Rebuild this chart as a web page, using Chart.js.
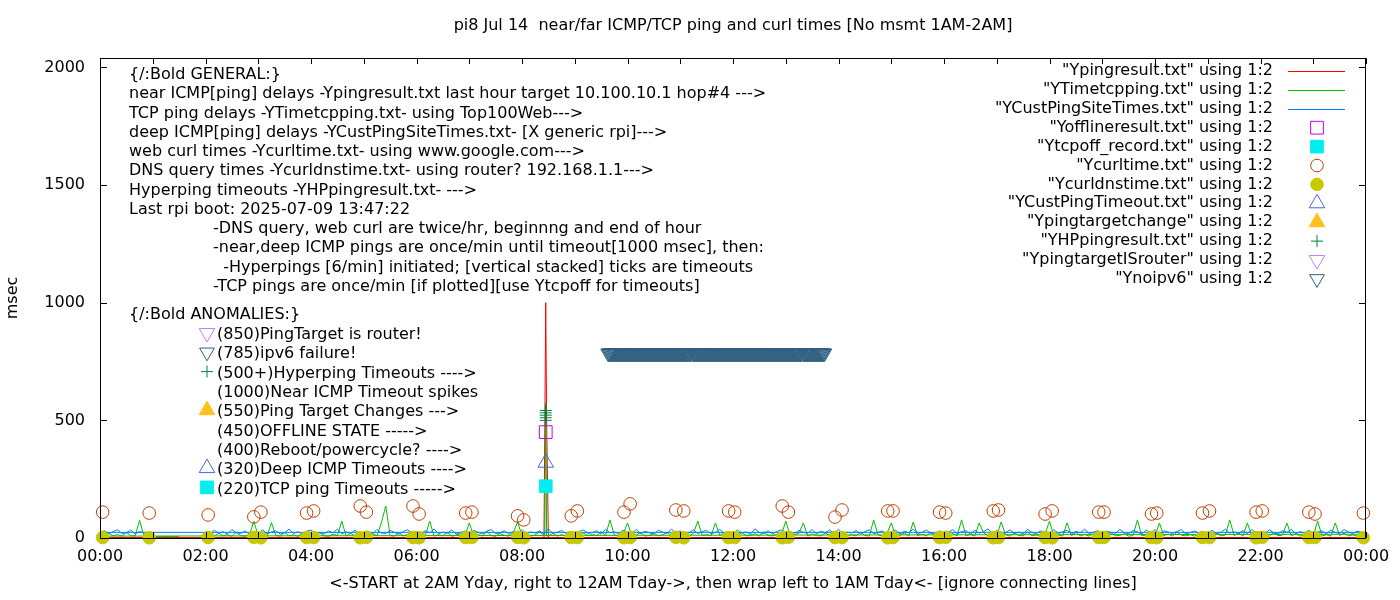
<!DOCTYPE html>
<html>
<head>
<meta charset="utf-8">
<title>pi8 ping and curl times</title>
<script src="https://cdn.jsdelivr.net/npm/chart.js@4.4.1/dist/chart.umd.min.js"></script>
<style>
  html, body { margin: 0; padding: 0; background: #fff; }
  canvas { display: block; }
</style>
</head>
<body>
<canvas id="grafico" width="1400" height="600"></canvas>
<script>
// ---- texts ----
const chartTitle = "pi8 Jul 14  near/far ICMP/TCP ping and curl times [No msmt 1AM-2AM]";
const xTitle = "<-START at 2AM Yday, right to 12AM Tday->, then wrap left to 1AM Tday<- [ignore connecting lines]";
const yTitle = "msec";

// ---- axes ----
const yTicks = [0, 500, 1000, 1500, 2000];
const xTickHours = [0, 2, 4, 6, 8, 10, 12, 14, 16, 18, 20, 22, 24];
const xTickLabels = ["00:00", "02:00", "04:00", "06:00", "08:00", "10:00", "12:00",
                     "14:00", "16:00", "18:00", "20:00", "22:00", "00:00"];

// hour blocks in the order they were logged: 2AM yesterday .. 23h, then wrap to 0h
const hourOrder = [2, 3, 4, 5, 6, 7, 8, 9, 10, 11, 12, 13, 14, 15, 16, 17, 18, 19, 20, 21, 22, 23, 0];

// deep ICMP ping (YCustPingSiteTimes), msec, one value per 5 min
const custPingMs = [
  [24, 18, 33, 20, 27, 16, 36, 22, 19, 30, 17, 26],
  [21, 35, 18, 25, 31, 17, 22, 38, 19, 27, 16, 29],
  [34, 19, 24, 17, 30, 22, 37, 18, 26, 20, 33, 16],
  [23, 29, 17, 36, 21, 19, 32, 24, 16, 28, 35, 18],
  [27, 16, 31, 22, 38, 18, 25, 20, 34, 17, 23, 30],
  [19, 33, 24, 17, 29, 36, 18, 22, 31, 16, 27, 21],
  [35, 18, 26, 21, 30, 17, 39, 20, 24, 32, 19, 25],
  [17, 28, 34, 19, 23, 31, 16, 37, 22, 26, 18, 33],
  [24, 20, 36, 18, 29, 22, 17, 33, 25, 19, 38, 21],
  [30, 17, 23, 35, 19, 27, 32, 18, 24, 36, 20, 26],
  [18, 34, 21, 26, 16, 39, 23, 19, 31, 17, 28, 35],
  [22, 27, 18, 33, 24, 20, 36, 17, 29, 22, 34, 19],
  [37, 19, 25, 21, 32, 17, 27, 35, 18, 24, 30, 16],
  [26, 33, 17, 29, 22, 38, 19, 24, 34, 20, 17, 31],
  [19, 24, 36, 18, 27, 31, 16, 33, 21, 26, 39, 18],
  [32, 17, 22, 35, 20, 25, 18, 37, 23, 19, 30, 24],
  [21, 36, 19, 26, 33, 17, 28, 22, 38, 18, 25, 31],
  [17, 29, 24, 20, 37, 23, 18, 32, 26, 16, 34, 22],
  [35, 18, 31, 25, 19, 28, 36, 17, 23, 30, 20, 27],
  [20, 33, 17, 24, 38, 21, 26, 19, 32, 18, 36, 23],
  [28, 19, 35, 22, 17, 31, 24, 37, 18, 27, 21, 33],
  [18, 25, 30, 17, 34, 23, 20, 36, 26, 19, 29, 24],
  [24, 31, 18, 27, 35, 19, 23, 33, 17, 28, 21]
];

// TCP ping (YTimetcpping), msec, one value per 5 min
const tcpPingMs = [
  [6, 12, 8, 20, 9, 14, 7, 25, 10, 8, 15, 70],
  [9, 18, 7, 65, 11, 8, 24, 9, 13, 7, 19, 10],
  [8, 14, 22, 9, 7, 16, 10, 72, 8, 20, 9, 12],
  [11, 7, 19, 9, 64, 136, 10, 8, 23, 9, 15, 8],
  [10, 21, 9, 72, 8, 14, 9, 26, 7, 12, 18, 9],
  [64, 9, 15, 8, 28, 10, 7, 19, 11, 8, 22, 68],
  [10, 17, 8, 13, 26, 12, 9, 20, 8, 14, 9, 18],
  [12, 8, 21, 9, 15, 10, 28, 9, 77, 13, 8, 18],
  [64, 9, 14, 22, 8, 11, 19, 9, 13, 25, 8, 10],
  [9, 16, 8, 20, 72, 10, 14, 9, 64, 11, 23, 8],
  [13, 8, 24, 9, 11, 18, 8, 27, 10, 9, 15, 12],
  [72, 9, 13, 20, 64, 8, 17, 10, 9, 22, 11, 8],
  [10, 19, 8, 14, 9, 25, 11, 8, 77, 13, 9, 18],
  [64, 9, 12, 21, 8, 68, 10, 16, 9, 24, 8, 11],
  [12, 8, 19, 9, 77, 10, 15, 8, 64, 22, 9, 13],
  [9, 68, 14, 8, 21, 11, 9, 26, 10, 13, 8, 17],
  [72, 9, 13, 8, 64, 10, 24, 9, 15, 8, 19, 11],
  [8, 14, 22, 9, 11, 18, 8, 10, 77, 9, 13, 20],
  [9, 64, 10, 17, 8, 25, 12, 9, 14, 8, 21, 10],
  [11, 8, 19, 9, 13, 77, 10, 22, 8, 64, 12, 9],
  [9, 15, 8, 23, 10, 12, 64, 9, 18, 8, 14, 11],
  [10, 72, 9, 14, 8, 64, 11, 20, 9, 13, 8, 16],
  [8, 12, 20, 9, 14, 8, 23, 10, 9, 75, 8, 9]
];
const tcpTailMs = [6, 6, 6, 6, 6, 6, 6];          // 1:00 - 1:30
const tcpSpikeMin = [506, 507, 508];              // TCP spike at 08:27
const tcpSpikeMs = [9, 575, 9];

// near ICMP ping (Ypingresult), minute of day / msec
const nearPingMin = [120, 505, 507, 508, 510, 1439, 0, 60];
const nearPingMs = [2, 2, 1000, 500, 2, 2, 2, 2];

// web curl and DNS, twice per hour (minute of day)
const curlMin = [3, 56, 123, 175, 183, 235, 243, 296, 303, 356, 363, 416, 423, 475, 482, 536,
                 543, 596, 603, 655, 664, 715, 722, 776, 783, 836, 844, 896, 902, 955, 962, 1016,
                 1022, 1075, 1083, 1136, 1142, 1196, 1202, 1254, 1262, 1315, 1322, 1375, 1382, 1437];
const curlMs = [110, 106, 98, 90, 110, 106, 115, 136, 110, 136, 102, 106, 110, 94, 77, 94,
                115, 110, 145, 119, 115, 115, 110, 136, 110, 89, 119, 115, 115, 110, 106, 115,
                119, 102, 115, 110, 110, 102, 106, 106, 115, 110, 115, 110, 102, 106];
const dnsMs = [2, 1, 2, 3, 1, 2, 2, 1, 3, 2, 1, 2, 2, 3, 1, 2,
               2, 1, 2, 3, 1, 2, 2, 1, 3, 2, 2, 1, 2, 2, 3, 1,
               2, 2, 1, 2, 3, 2, 1, 2, 2, 1, 3, 2, 2, 1];

// anomalies
const hpPingMin = [507, 507, 507, 507, 507];
const hpPingMs = [500, 511, 522, 532, 542];
const offlineMin = [507];
const offlineMs = [450];
const tcpOffMin = [507];
const tcpOffMs = [220];
const custTimeoutMin = [507];
const custTimeoutMs = [320];
const targetChangeMin = [];
const targetChangeMs = [];
const isRouterMin = [];
const isRouterMs = [];
const noIpv6Level = 785;
const noIpv6Min = [
  578, 579, 580, 581, 582, 583, 584, 585, 586, 587, 588, 589, 590, 591, 592, 593, 594, 595, 596, 597,
  598, 599, 600, 601, 602, 603, 604, 605, 606, 607, 608, 609, 610, 611, 612, 613, 614, 615, 616, 617,
  618, 619, 620, 621, 622, 623, 624, 625, 626, 627, 628, 629, 630, 631, 632, 633, 634, 635, 636, 637,
  638, 639, 640, 641, 642, 643, 644, 645, 646, 647, 648, 649, 650, 651, 652, 653, 654, 655, 656, 657,
  658, 659, 660, 661, 662, 663, 664, 665, 666, 667, 668, 669, 670, 671, 672,
  674, 675, 676, 677, 678, 679, 680, 681, 682, 683, 684, 685, 686, 687, 688, 689, 690, 691, 692, 693,
  694, 695, 696, 697, 698, 699, 700, 701, 702, 703, 704, 705, 706, 707, 708, 709, 710, 711, 712, 713,
  714, 715, 716, 717, 718, 719, 720, 721, 722, 723, 724, 725, 726, 727, 728, 729, 730, 731, 732, 733,
  734, 735, 736, 737, 738, 739, 740, 741, 742, 743, 744, 745, 746, 747, 748, 749, 750, 751, 752, 753,
  754, 755, 756, 757, 758, 759, 760, 761, 762, 763, 764, 765, 766, 767, 768, 769, 770, 771, 772, 773,
  774, 775, 776, 777, 778, 779, 780, 781, 782, 783, 784, 785, 786, 787, 788, 789, 790, 791, 792, 793,
  794, 795, 796, 797, 798, 800, 801, 802, 803, 804, 805, 806, 807, 808, 809, 810, 811, 812, 813, 814,
  815, 816, 817, 818, 819, 820, 821, 822, 823, 824
];

// notes written inside the plot
const generalNotes = [
  "{/:Bold GENERAL:}",
  "near ICMP[ping] delays -Ypingresult.txt last hour target 10.100.10.1 hop#4 --->",
  "TCP ping delays -YTimetcpping.txt- using Top100Web--->",
  "deep ICMP[ping] delays -YCustPingSiteTimes.txt- [X generic rpi]--->",
  "web curl times -Ycurltime.txt- using www.google.com--->",
  "DNS query times -Ycurldnstime.txt- using router? 192.168.1.1--->",
  "Hyperping timeouts -YHPpingresult.txt- --->",
  "Last rpi boot: 2025-07-09 13:47:22"
];
const scheduleNotes = [
  "-DNS query, web curl are twice/hr, beginnng and end of hour",
  "-near,deep ICMP pings are once/min until timeout[1000 msec], then:",
  "  -Hyperpings [6/min] initiated; [vertical stacked] ticks are timeouts",
  "-TCP pings are once/min [if plotted][use Ytcpoff for timeouts]"
];
const anomalyNotes = [
  "(850)PingTarget is router!",
  "(785)ipv6 failure!",
  "(500+)Hyperping Timeouts ---->",
  "(1000)Near ICMP Timeout spikes",
  "(550)Ping Target Changes --->",
  "(450)OFFLINE STATE ----->",
  "(400)Reboot/powercycle? ---->",
  "(320)Deep ICMP Timeouts ---->",
  "(220)TCP ping Timeouts ----->"
];
// dataset whose marker is shown in front of each anomaly line (-1 = none)
const anomalyMarker = [10, 11, 9, -1, 8, -1, -1, 7, 4];

const fonte = '16px "DejaVu Sans", sans-serif';
const fonteEixo = { family: 'DejaVu Sans', size: 16 };

// ---- helpers ----
function pointsFromRows(rows, hours) {
  const pts = [];
  rows.forEach((row, i) => row.forEach((v, j) => pts.push({ x: hours[i] * 60 + j * 5, y: v })));
  return pts;
}
function pointsFromMinutes(mins, vals) {
  return mins.map((m, i) => ({ x: m, y: Array.isArray(vals) ? vals[i] : vals }));
}

const tcpPts = pointsFromRows(tcpPingMs, hourOrder).concat(pointsFromRows([tcpTailMs], [1]));
const corte = tcpPts.findIndex(p => p.x === 505) + 1;
tcpPts.splice(corte, 0, ...pointsFromMinutes(tcpSpikeMin, tcpSpikeMs));

const transparente = 'rgba(0,0,0,0)';
function linha(label, data, cor) {
  return { label, data, showLine: true, borderColor: cor, backgroundColor: cor, borderWidth: 1, pointRadius: 0 };
}
function marca(label, data, cor, estilo, raio, cheio, rot) {
  return { label, data, showLine: false, pointStyle: estilo, pointRadius: raio, pointRotation: rot || 0,
           borderColor: cor, backgroundColor: cheio ? cor : transparente, borderWidth: 1 };
}

const datasets = [
  linha('"Ypingresult.txt" using 1:2', pointsFromMinutes(nearPingMin, nearPingMs), '#ff0000'),
  linha('"YTimetcpping.txt" using 1:2', tcpPts, '#00c000'),
  linha('"YCustPingSiteTimes.txt" using 1:2', pointsFromRows(custPingMs, hourOrder), '#0080ff'),
  marca('"Yofflineresult.txt" using 1:2', pointsFromMinutes(offlineMin, offlineMs), '#c000ff', 'rect', 9, false),
  marca('"Ytcpoff_record.txt" using 1:2', pointsFromMinutes(tcpOffMin, tcpOffMs), '#00eeee', 'rect', 9, true),
  marca('"Ycurltime.txt" using 1:2', pointsFromMinutes(curlMin, curlMs), '#c04000', 'circle', 6.3, false),
  marca('"Ycurldnstime.txt" using 1:2', pointsFromMinutes(curlMin, dnsMs), '#c8c800', 'circle', 6.3, true),
  marca('"YCustPingTimeout.txt" using 1:2', pointsFromMinutes(custTimeoutMin, custTimeoutMs), '#4169e1', 'triangle', 9, false),
  marca('"Ypingtargetchange" using 1:2', pointsFromMinutes(targetChangeMin, targetChangeMs), '#ffc020', 'triangle', 9, true),
  marca('"YHPpingresult.txt" using 1:2', pointsFromMinutes(hpPingMin, hpPingMs), '#008040', 'cross', 6, false),
  marca('"YpingtargetISrouter" using 1:2', pointsFromMinutes(isRouterMin, isRouterMs), '#c080ff', 'triangle', 9, false, 180),
  marca('"Ynoipv6" using 1:2', pointsFromMinutes(noIpv6Min, noIpv6Level), '#306080', 'triangle', 8.5, false, 180)
];
// gnuplot draws in plot order: first dataset at the bottom
datasets.forEach((d, i) => { d.order = datasets.length - i; d.clip = false; });

function marcador(ctx, ds, x, y) {
  ctx.save();
  ctx.strokeStyle = ds.borderColor;
  ctx.fillStyle = ds.backgroundColor;
  ctx.lineWidth = 1;
  Chart.helpers.drawPoint(ctx, { pointStyle: ds.pointStyle, rotation: ds.pointRotation,
                                 radius: ds.pointRadius, borderWidth: 1 }, x, y);
  ctx.restore();
}

// border, inward ticks, key, notes and title
const decoracao = {
  id: 'decoracao',
  afterDatasetsDraw(chart) {
    const { ctx, chartArea: a, scales } = chart;
    const sx = scales.x, sy = scales.y;
    ctx.save();
    ctx.strokeStyle = '#000';
    ctx.lineWidth = 1;
    ctx.strokeRect(a.left + 0.5, a.top + 0.5, a.right - a.left - 1, a.bottom - a.top);
    ctx.beginPath();
    yTicks.forEach(v => {
      const py = Math.round(sy.getPixelForValue(v)) + 0.5;
      ctx.moveTo(a.left, py); ctx.lineTo(a.left + 7, py);
      ctx.moveTo(a.right, py); ctx.lineTo(a.right - 7, py);
    });
    for (let h = 0; h <= 24; h++) {
      const px = Math.round(sx.getPixelForValue(h * 60)) + 0.5;
      ctx.moveTo(px, a.bottom); ctx.lineTo(px, a.bottom - 6);
      ctx.moveTo(px, a.top); ctx.lineTo(px, a.top + 6);
    }
    ctx.stroke();

    ctx.font = fonte;
    ctx.fillStyle = '#000';
    ctx.textBaseline = 'middle';

    // key, top right
    ctx.textAlign = 'right';
    chart.data.datasets.forEach((ds, i) => {
      const yy = a.top + 13 + i * 18.9;
      ctx.fillStyle = '#000';
      ctx.fillText(ds.label, a.right - 93, yy);
      if (ds.showLine) {
        ctx.strokeStyle = ds.borderColor;
        ctx.beginPath();
        ctx.moveTo(a.right - 78, Math.round(yy) + 0.5);
        ctx.lineTo(a.right - 21, Math.round(yy) + 0.5);
        ctx.stroke();
      } else {
        marcador(ctx, ds, a.right - 49, yy);
      }
    });

    // notes, top left
    ctx.textAlign = 'left';
    ctx.fillStyle = '#000';
    generalNotes.forEach((t, i) => ctx.fillText(t, a.left + 29, a.top + 17 + i * 19.25));
    scheduleNotes.forEach((t, i) => ctx.fillText(t, a.left + 113, a.top + 171 + i * 19.25));
    ctx.fillText("{/:Bold ANOMALIES:}", a.left + 29, a.top + 257);
    anomalyNotes.forEach((t, i) => {
      const yy = a.top + 277 + i * 19.3;
      ctx.fillStyle = '#000';
      ctx.fillText(t, a.left + 117, yy);
      if (anomalyMarker[i] >= 0) marcador(ctx, chart.data.datasets[anomalyMarker[i]], a.left + 107, yy - 2);
    });

    // title
    ctx.textAlign = 'center';
    ctx.fillStyle = '#000';
    ctx.fillText(chartTitle, (a.left + a.right) / 2, 26);
    ctx.restore();
  }
};

new Chart(document.getElementById('grafico'), {
  type: 'scatter',
  data: { datasets },
  plugins: [decoracao],
  options: {
    responsive: false,
    animation: false,
    events: [],
    layout: { padding: { left: 0, right: 34, top: 58, bottom: 0 } },
    plugins: { legend: { display: false }, tooltip: { enabled: false }, title: { display: false } },
    scales: {
      x: {
        type: 'linear', min: 0, max: 1440,
        afterBuildTicks: s => { s.ticks = xTickHours.map(h => ({ value: h * 60 })); },
        afterFit: s => { s.height = 62; s.paddingLeft = 0; s.paddingRight = 0; },
        ticks: { callback: (v, i) => xTickLabels[i], font: fonteEixo,
                 color: '#000', padding: 9, maxRotation: 0, autoSkip: false },
        grid: { display: false, drawTicks: false },
        border: { display: false },
        title: { display: true, text: xTitle, color: '#000', font: fonteEixo,
                 padding: { top: 0, bottom: 7 } }
      },
      y: {
        type: 'linear', min: 0, max: 2040,
        afterBuildTicks: s => { s.ticks = yTicks.map(v => ({ value: v })); },
        afterFit: s => { s.width = 100; s.paddingTop = 0; s.paddingBottom = 0; },
        ticks: { callback: v => String(v), font: fonteEixo, color: '#000', padding: 15 },
        grid: { display: false, drawTicks: false },
        border: { display: false },
        title: { display: true, text: yTitle, color: '#000', font: fonteEixo,
                 padding: { top: 3, bottom: 0 } }
      }
    }
  }
});
</script>
</body>
</html>
